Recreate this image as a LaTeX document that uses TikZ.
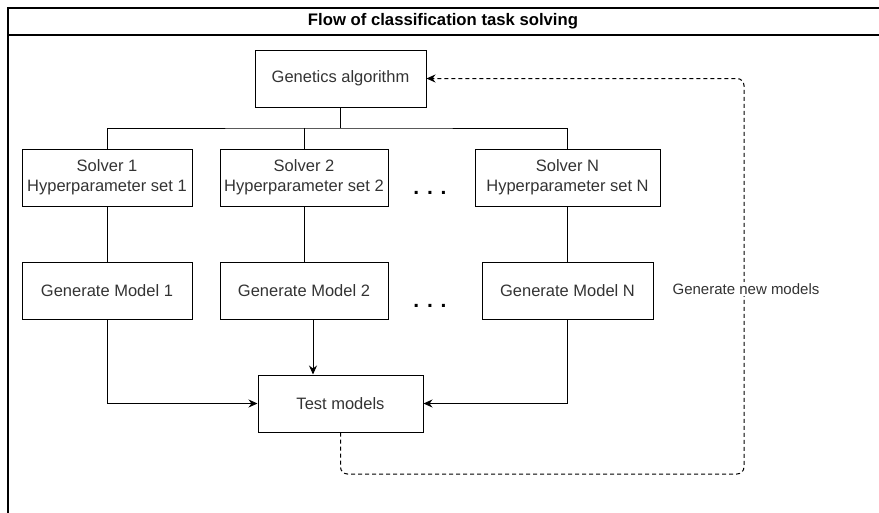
\documentclass[tikz,border=0pt]{standalone}
\usepackage{fontspec}
\setmainfont{Liberation Sans}
\usetikzlibrary{arrows.meta}

\definecolor{txtgray}{HTML}{333333}

\tikzset{
	box/.style={draw,line width=1pt,inner sep=0pt,minimum height=57pt,align=center,
		text=txtgray,font=\fontsize{16.5}{20}\selectfont},
	dots/.style={anchor=base,text=black,font=\fontsize{21}{21}\selectfont\bfseries}
}

\begin{document}
\begin{tikzpicture}[x=1pt,y=-1pt,line width=1pt,>={Stealth[length=9pt,width=8pt]}]
		\useasboundingbox (0,0) rectangle (879,512);
		\clip (0,0) rectangle (879,512);

		% draw the frame and its title
		\draw[line width=1.5pt] (8,8) rectangle (884,520);
		\draw[line width=1.2pt] (8,35) -- (884,35);
		\node[text=black,font=\fontsize{16.7}{18}\selectfont\bfseries] (title) at (443,21.5) {Flow of classification task solving};

		% draw the boxes
		\node[box,minimum width=171pt] (ga) at (340.5,78.5) {Genetics algorithm};
		\node[box,minimum width=170pt] (solver1) at (107,177.5) {Solver 1\\Hyperparameter set 1};
		\node[box,minimum width=168pt] (solver2) at (304,177.5) {Solver 2\\Hyperparameter set 2};
		\node[box,minimum width=185pt] (solverN) at (567.5,177.5) {Solver N\\Hyperparameter set N};
		\node[box,minimum width=170pt] (gen1) at (107,290.5) {Generate Model 1};
		\node[box,minimum width=168pt] (gen2) at (304,290.5) {Generate Model 2};
		\node[box,minimum width=171pt] (genN) at (567.5,290.5) {Generate Model N};
		\node[box,minimum width=165pt] (test) at (340.5,403.5) {Test models};

		% the dots between the columns
		\node[dots] (dots1) at (430,194) {. . .};
		\node[dots] (dots2) at (430,307) {. . .};

		% from the algorithm to the solvers
		\coordinate (bus) at (340.5,128);
		\draw (ga.south) -- (bus);
		\draw (solver1.north) |- (bus) -| (solverN.north);
		\draw (solver2.north) -- (solver2.north |- bus);

		% from the solvers to the models
		\draw (solver1.south) -- (gen1.north);
		\draw (solver2.south) -- (gen2.north);
		\draw (solverN.south) -- (genN.north);

		% from the models to the test
		\draw[->] (gen1.south) |- (test.west);
		\draw[->] ([xshift=9pt]gen2.south) -- ([xshift=9pt]gen2.south |- test.north);
		\draw[->] (genN.south) |- (test.east);

		% the loop back to the algorithm
		\coordinate (loopA) at (340.5,474);
		\coordinate (loopB) at (744,474);
		\coordinate (loopC) at (744,78.5);
		\draw[->,dash pattern=on 4pt off 3pt,rounded corners=7pt] (test.south) -- (loopA) -- (loopB) -- (loopC) -- (ga.east);
		\node[fill=white,inner sep=1pt,text=txtgray,font=\fontsize{15}{18}\selectfont] (newmodels) at (746,289) {Generate new models};
	\end{tikzpicture}
\end{document}
